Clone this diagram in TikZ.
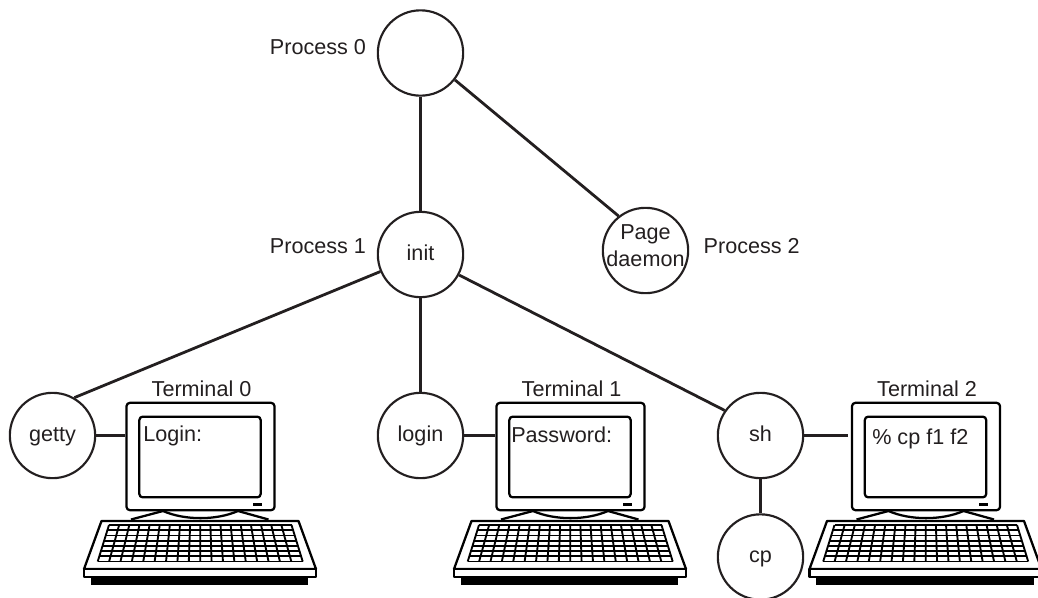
\documentclass[tikz,border=0pt]{standalone}
\usepackage{fontspec}
\setmainfont{Liberation Sans}
\definecolor{ink}{HTML}{231F20}
\tikzset{
  proc/.style={draw=ink,circle,line width=1.6pt,minimum size=64pt,inner sep=0pt,text=ink,font=\fontsize{16.2}{19}\selectfont},
  word/.style={proc,text height=12pt,text depth=3.4pt},
  caption/.style={anchor=base,text=ink,inner sep=0pt,font=\fontsize{16.2}{19}\selectfont},
  wire/.style={draw=ink,line width=2.1pt},
  part/.style={draw=black,line width=1.7pt,line join=round}
}
\begin{document}
\begin{tikzpicture}[x=.75pt,y=-.75pt]
  \useasboundingbox (0,0) rectangle (1038,597);

  \node[proc] (p0) at (420.5,53) {};
  \node[word] (init) at (420.5,254.5) {init};
  \node[proc] (page) at (645.5,250.5) {};
  \node[caption,anchor=center,align=center] (pagetext) at (645.5,245.5) {Page\\[1pt]daemon};
  \node[word] (getty) at (52.5,435.5) {getty};
  \node[word] (login) at (420.5,435.5) {login};
  \node[word] (sh) at (760.5,435.5) {sh};
  \node[word] (cp) at (760.5,557) {cp};

  \node[caption] (l0) at (318,54.3) {Process 0};
  \node[caption] (l1) at (318,253.3) {Process 1};
  \node[caption] (l2) at (751.7,253.3) {Process 2};

  \foreach \n/\off/\tx/\ty/\msg in {0/0/143/441.7/Login:,1/370/141/442/Password:,2/725.5/146.5/444/\%~cp f1 f2} {
    \begin{scope}[xshift=\off*.75pt]
      \fill (90.5,575) rectangle (308,584.5);
      \draw[part,fill=white] (84,569) -- (101.5,521) -- (298.5,521) -- (316,569) -- cycle;
      \draw[part,fill=white] (84,569) rectangle (316,577);
      \foreach \r in {0,...,7}
        \draw[line width=1.4pt] (109-11.3*\r/7,525+36.5*\r/7) -- (291.5+11.2*\r/7,525+36.5*\r/7);
      \foreach \c in {0,...,18}
        \draw[line width=1.4pt] (109+182.5*\c/18,525) -- (97.7+205*\c/18,561.5);
      \draw[part] (131,519.5) -- (163,511) .. controls (185,520.5) and (216,520.5) .. (238,511) -- (268.5,519.5);
      \node[part,rectangle,rounded corners=2.5pt,fill=white,minimum width=111pt,minimum height=80.5pt,inner sep=0pt] (term\n) at (200.5,456.5) {};
      \node[part,rectangle,rounded corners=2.5pt,minimum width=91pt,minimum height=60.5pt,inner sep=0pt] (screen\n) at (200,457) {};
      \fill (253,503.3) rectangle (262,505.8);
      \node[caption] (title\n) at (201.5,396) {Terminal \n};
      \node[caption,anchor=base west] (msg\n) at (\tx,\ty) {\msg};
    \end{scope}
  }

  \draw[wire] (p0) -- (init);
  \draw[wire] (p0.-38) -- (page.128);
  \draw[wire] (init.203) -- (getty.60);
  \draw[wire] (init) -- (login);
  \draw[wire] (init.-28) -- (sh.145);
  \draw[wire] (getty.east) -- (getty.east -| term0.west);
  \draw[wire] (login.east) -- (login.east -| term1.west);
  \draw[wire,shorten >=2.5pt] (sh.east) -- (sh.east -| term2.west);
  \draw[wire] (sh) -- (cp);
\end{tikzpicture}
\end{document}
